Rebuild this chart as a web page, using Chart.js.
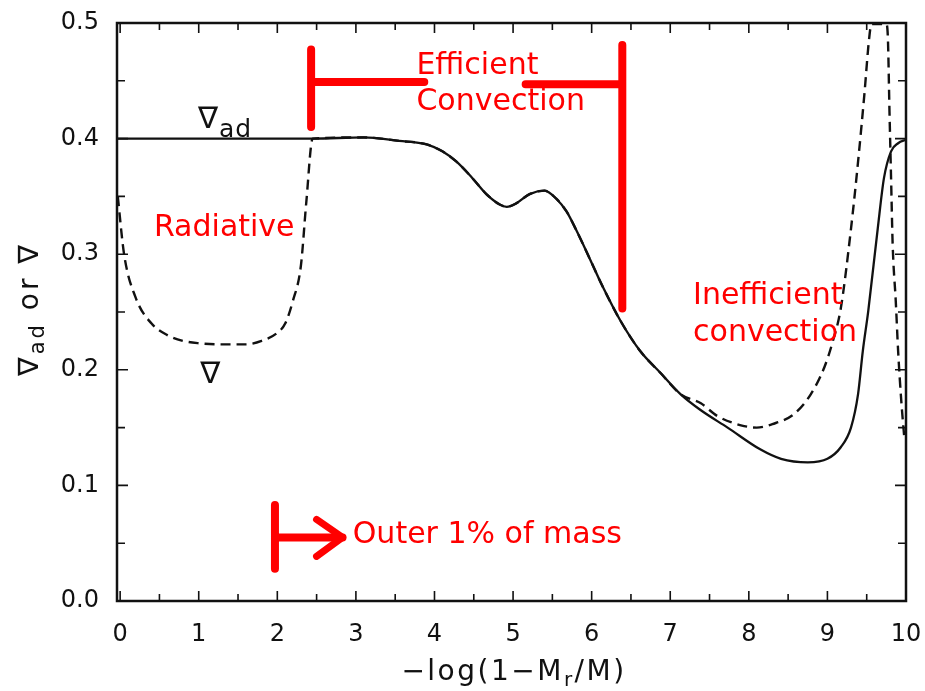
<!DOCTYPE html>
<html>
<head>
<meta charset="utf-8">
<title>Temperature gradients in the outer envelope</title>
<script src="https://cdn.jsdelivr.net/npm/chart.js@4.4.0/dist/chart.umd.min.js"></script>
<style>
  html, body { margin: 0; padding: 0; background: #fff; }
  canvas { display: block; }
</style>
</head>
<body>
<canvas id="myChart" width="925" height="691"></canvas>
<script>
// adiabatic gradient (solid line)
const gradAdX = [-0.04, 1.0, 2.0, 2.45, 3.1, 3.55, 3.9, 4.1, 4.28, 4.48, 4.66, 4.83, 4.92, 5.04, 5.21, 5.4, 5.55, 5.68, 5.81, 5.97, 6.14, 6.37, 6.62, 6.88, 7.13, 7.39, 7.73, 8.15, 8.41, 8.75, 9.0, 9.17, 9.3, 9.39, 9.45, 9.52, 9.64, 9.72, 9.81, 9.9, 10.0];
const gradAdY = [0.400, 0.400, 0.400, 0.400, 0.401, 0.398, 0.395, 0.389, 0.380, 0.366, 0.352, 0.343, 0.341, 0.344, 0.352, 0.355, 0.348, 0.337, 0.320, 0.297, 0.272, 0.242, 0.216, 0.197, 0.179, 0.165, 0.150, 0.131, 0.123, 0.120, 0.123, 0.133, 0.150, 0.179, 0.216, 0.251, 0.322, 0.366, 0.389, 0.396, 0.399];

// actual gradient (dashed line)
const gradX = [-0.03, 0.05, 0.2, 0.4, 0.6, 0.8, 1.0, 1.3, 1.6, 1.8, 2.0, 2.1, 2.2, 2.3, 2.37, 2.45, 3.1, 3.55, 3.9, 4.1, 4.28, 4.48, 4.66, 4.83, 4.92, 5.04, 5.21, 5.4, 5.55, 5.68, 5.81, 5.97, 6.14, 6.37, 6.62, 6.88, 7.13, 7.39, 7.6, 7.9, 8.1, 8.3, 8.58, 8.79, 8.96, 9.07, 9.17, 9.3, 9.39, 9.47, 9.53, 9.56, 9.75, 9.77, 9.79, 9.81, 9.83, 9.87, 9.9, 9.94, 9.98];
const gradY = [0.350, 0.300, 0.262, 0.240, 0.230, 0.225, 0.223, 0.222, 0.222, 0.225, 0.232, 0.240, 0.260, 0.290, 0.346, 0.400, 0.401, 0.398, 0.395, 0.389, 0.380, 0.366, 0.352, 0.343, 0.341, 0.344, 0.352, 0.355, 0.348, 0.337, 0.320, 0.297, 0.272, 0.242, 0.216, 0.197, 0.179, 0.171, 0.160, 0.152, 0.150, 0.153, 0.162, 0.179, 0.202, 0.225, 0.253, 0.322, 0.380, 0.438, 0.486, 0.499, 0.499, 0.486, 0.423, 0.366, 0.309, 0.259, 0.216, 0.173, 0.140];

const xTickValues = [0, 1, 2, 3, 4, 5, 6, 7, 8, 9, 10];
const yTickValues = [0, 0.1, 0.2, 0.3, 0.4, 0.5];

const fontFamily = "'DejaVu Sans', sans-serif";
const ink = "#111";
const red = "#ff0000";

// red notes, placed in data units
const notes = [
    { parts: [{ t: "Radiative" }], x: 0.43, y: 0.316 },
    { parts: [{ t: "Efficient" }], x: 3.77, y: 0.456 },
    { parts: [{ t: "Convection" }], x: 3.77, y: 0.425 },
    { parts: [{ t: "Inefficient" }], x: 7.29, y: 0.257 },
    { parts: [{ t: "convection" }], x: 7.29, y: 0.225 },
    { parts: [{ t: "Outer 1% of mass" }], x: 2.96, y: 0.050 }
];
const curveLabels = [
    { parts: [{ t: "\u2207", size: 30 }, { t: "ad", size: 25, dy: 9 }], x: 0.99, y: 0.409 },
    { parts: [{ t: "\u2207", size: 30 }], x: 1.02, y: 0.189 }
];
const redSegments = [
    [2.43, 0.477, 2.43, 0.410],
    [2.43, 0.449, 3.87, 0.449],
    [5.16, 0.447, 6.39, 0.447],
    [6.39, 0.481, 6.39, 0.253],
    [1.97, 0.083, 1.97, 0.028],
    [1.97, 0.055, 2.83, 0.055]
];
const arrowTip = { x: 2.83, y: 0.055 };

function toPoints(xs, ys) {
    return xs.map((x, i) => ({ x: x, y: ys[i] }));
}

function drawParts(ctx, parts, x, y, align, baseSize, spacing) {
    ctx.letterSpacing = (spacing || 0) + "px";
    let total = 0;
    parts.forEach(p => {
        ctx.font = (p.size || baseSize) + "px " + fontFamily;
        p.w = ctx.measureText(p.t).width;
        total += p.w;
    });
    let cx = align === "center" ? x - total / 2 : x;
    ctx.textAlign = "left";
    ctx.textBaseline = "alphabetic";
    parts.forEach(p => {
        ctx.font = (p.size || baseSize) + "px " + fontFamily;
        ctx.fillText(p.t, cx, y + (p.dy || 0));
        cx += p.w;
    });
    ctx.letterSpacing = "0px";
}

const paperFrame = {
    id: "paperFrame",
    afterDraw(chart) {
        const { ctx, chartArea: a, scales } = chart;
        const xs = scales.x, ys = scales.y;
        ctx.save();

        // frame and inward ticks
        ctx.strokeStyle = ink;
        ctx.lineWidth = 2.5;
        ctx.strokeRect(a.left, a.top, a.right - a.left, a.bottom - a.top);
        ctx.lineWidth = 1.6;
        ctx.beginPath();
        for (let i = 0; i <= 20; i++) {
            const px = xs.getPixelForValue(i * 0.5);
            const len = i % 2 === 0 ? 10 : 7;
            ctx.moveTo(px, a.bottom); ctx.lineTo(px, a.bottom - len);
            ctx.moveTo(px, a.top); ctx.lineTo(px, a.top + len);
        }
        for (let i = 0; i <= 10; i++) {
            const py = ys.getPixelForValue(i * 0.05);
            const len = i % 2 === 0 ? 11 : 8;
            ctx.moveTo(a.left, py); ctx.lineTo(a.left + len, py);
            ctx.moveTo(a.right, py); ctx.lineTo(a.right - len, py);
        }
        ctx.stroke();

        // axis titles with subscripts
        ctx.fillStyle = ink;
        drawParts(ctx, [{ t: "\u2212log(1\u2212M" }, { t: "r", size: 20, dy: 6 }, { t: "/M)" }],
            514, 680, "center", 28, 2.5);
        ctx.save();
        ctx.translate(38, 309);
        ctx.rotate(-Math.PI / 2);
        drawParts(ctx, [{ t: "\u2207" }, { t: "ad", size: 21, dy: 6 }, { t: " or \u2207" }], 0, 0, "center", 28, 3);
        ctx.restore();

        // curve labels
        curveLabels.forEach(n => {
            drawParts(ctx, n.parts, xs.getPixelForValue(n.x), ys.getPixelForValue(n.y), "left", 30, 1);
        });

        // red annotations
        ctx.strokeStyle = red;
        ctx.fillStyle = red;
        ctx.lineWidth = 8;
        ctx.lineCap = "round";
        ctx.beginPath();
        redSegments.forEach(s => {
            ctx.moveTo(xs.getPixelForValue(s[0]), ys.getPixelForValue(s[1]));
            ctx.lineTo(xs.getPixelForValue(s[2]), ys.getPixelForValue(s[3]));
        });
        ctx.stroke();
        const tx = xs.getPixelForValue(arrowTip.x), ty = ys.getPixelForValue(arrowTip.y);
        ctx.lineWidth = 7;
        ctx.lineJoin = "round";
        ctx.beginPath();
        ctx.moveTo(tx - 26, ty - 18);
        ctx.lineTo(tx, ty);
        ctx.lineTo(tx - 26, ty + 19);
        ctx.stroke();
        notes.forEach(n => {
            drawParts(ctx, n.parts, xs.getPixelForValue(n.x), ys.getPixelForValue(n.y), "left", 30);
        });
        ctx.restore();
    }
};

new Chart("myChart", {
    type: "line",
    data: {
        datasets: [{
            label: "\u2207ad",
            data: toPoints(gradAdX, gradAdY),
            borderColor: ink,
            borderWidth: 2.3,
            pointRadius: 0,
            cubicInterpolationMode: "monotone",
            fill: false
        }, {
            label: "\u2207",
            data: toPoints(gradX, gradY),
            borderColor: ink,
            borderWidth: 2.4,
            borderDash: [10, 6],
            pointRadius: 0,
            cubicInterpolationMode: "monotone",
            fill: false
        }]
    },
    options: {
        responsive: false,
        animation: false,
        devicePixelRatio: 1,
        layout: { padding: { left: 0, right: 19, top: 23, bottom: 0 } },
        plugins: {
            legend: { display: false },
            tooltip: { enabled: false },
            title: { display: false }
        },
        scales: {
            x: {
                type: "linear",
                min: -0.04,
                max: 10,
                grid: { display: false },
                border: { display: false },
                ticks: {
                    color: ink,
                    font: { family: fontFamily, size: 24 },
                    padding: 11,
                    maxRotation: 0
                },
                afterBuildTicks: s => { s.ticks = xTickValues.map(v => ({ value: v })); },
                afterFit: s => { s.height = 90; s.paddingRight = 0; s.paddingLeft = 0; }
            },
            y: {
                type: "linear",
                min: 0,
                max: 0.5,
                grid: { display: false },
                border: { display: false },
                ticks: {
                    color: ink,
                    font: { family: fontFamily, size: 24 },
                    padding: 10,
                    callback: v => v.toFixed(1)
                },
                afterBuildTicks: s => { s.ticks = yTickValues.map(v => ({ value: v })); },
                afterFit: s => { s.width = 117; s.paddingTop = 0; s.paddingBottom = 0; }
            }
        }
    },
    plugins: [paperFrame]
});
</script>
</body>
</html>
